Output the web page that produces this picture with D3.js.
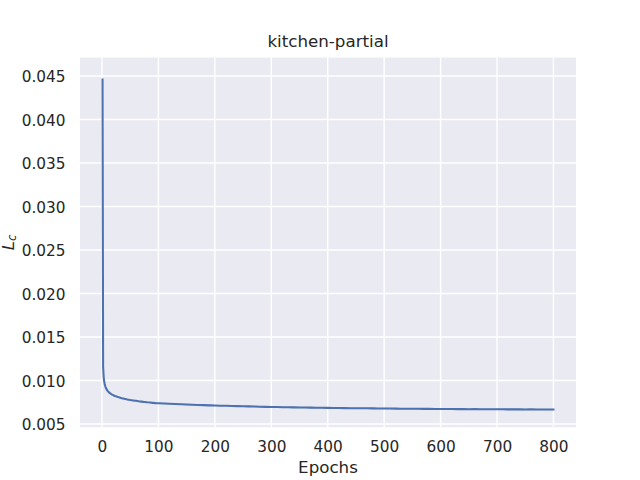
<!DOCTYPE html>
<html>
<head>
<meta charset="utf-8">
<script src="https://cdn.jsdelivr.net/npm/d3@7"></script>
<style>
  body { margin: 0; background: #fff; }
  text { font-family: "DejaVu Sans", sans-serif; fill: #262626; }
</style>
</head>
<body>
<div id="chart"></div>
<script>
// values
const epochs = [1, 2, 3, 4, 5, 6, 7, 8, 10, 12, 14, 16, 18, 20, 23, 26, 30, 35, 40, 45, 50, 55, 60, 65, 70, 75, 80, 85, 90, 95,
  100, 110, 120, 130, 140, 150, 160, 170, 180, 190, 200, 210, 220, 230, 240, 250, 260, 270, 280, 290,
  300, 310, 320, 330, 340, 350, 360, 370, 380, 390, 400, 410, 420, 430, 440, 450, 460, 470, 480, 490,
  500, 510, 520, 530, 540, 550, 560, 570, 580, 590, 600, 610, 620, 630, 640, 650, 660, 670, 680, 690,
  700, 710, 720, 730, 740, 750, 760, 770, 780, 790, 800];

const loss = [0.04460, 0.01160, 0.01040, 0.00985, 0.00952, 0.00930, 0.00913, 0.00900, 0.00880, 0.00866,
  0.00855, 0.00846, 0.00838, 0.00831, 0.00822, 0.00815, 0.00806, 0.00797, 0.00789, 0.00782,
  0.00776, 0.00771, 0.00766, 0.00761, 0.00757, 0.00753, 0.00749, 0.00746, 0.00743, 0.00740,
  0.00738, 0.00735, 0.00732, 0.00729, 0.00727, 0.00724, 0.00722, 0.00719, 0.00717, 0.00714,
  0.00712, 0.00710, 0.00709, 0.00706, 0.00705, 0.00703, 0.00702, 0.00700, 0.00699, 0.00697,
  0.00696, 0.00695, 0.00693, 0.00693, 0.00691, 0.00690, 0.00689, 0.00688, 0.00687, 0.00686,
  0.00685, 0.00684, 0.00684, 0.00682, 0.00681, 0.00681, 0.00680, 0.00680, 0.00679, 0.00678,
  0.00678, 0.00677, 0.00677, 0.00676, 0.00676, 0.00675, 0.00675, 0.00674, 0.00674, 0.00673,
  0.00673, 0.00672, 0.00673, 0.00671, 0.00672, 0.00670, 0.00671, 0.00670, 0.00670, 0.00669,
  0.00669, 0.00669, 0.00668, 0.00669, 0.00668, 0.00667, 0.00668, 0.00667, 0.00667, 0.00666, 0.00667];

// half width of the shaded band around the line
const spread = [0.00055, 0.00030, 0.00016, 0.00012, 0.00010, 0.00010, 0.00009, 0.00009, 0.00009, 0.00009,
  0.00009, 0.00009, 0.00009, 0.00009, 0.00009, 0.00009, 0.00009, 0.00009, 0.00009, 0.00009,
  0.00009, 0.00009, 0.00009, 0.00009, 0.00009, 0.00009, 0.00009, 0.00009, 0.00009, 0.00009,
  0.00009, 0.00009, 0.00009, 0.00009, 0.00009, 0.00009, 0.00009, 0.00009, 0.00009, 0.00009,
  0.00009, 0.00009, 0.00009, 0.00009, 0.00009, 0.00009, 0.00009, 0.00009, 0.00009, 0.00009,
  0.00009, 0.00009, 0.00009, 0.00009, 0.00009, 0.00009, 0.00009, 0.00009, 0.00009, 0.00009,
  0.00009, 0.00009, 0.00009, 0.00009, 0.00009, 0.00009, 0.00009, 0.00009, 0.00009, 0.00009,
  0.00009, 0.00009, 0.00009, 0.00009, 0.00009, 0.00009, 0.00009, 0.00009, 0.00009, 0.00009,
  0.00009, 0.00009, 0.00009, 0.00009, 0.00009, 0.00009, 0.00009, 0.00009, 0.00009, 0.00009,
  0.00009, 0.00009, 0.00009, 0.00009, 0.00009, 0.00009, 0.00009, 0.00009, 0.00009, 0.00009, 0.00009];

const xTicks = [0, 100, 200, 300, 400, 500, 600, 700, 800];
const yTicks = [0.005, 0.010, 0.015, 0.020, 0.025, 0.030, 0.035, 0.040, 0.045];

const chartTitle = "kitchen-partial";
const xLabel = "Epochs";

// axis limits as seen in the picture
const xLimits = [-38.95, 839.95];
const yLimits = [0.00463, 0.04712];

const margin = { top: 57.6, right: 64, bottom: 52.8, left: 80 },
    width = 640 - margin.left - margin.right,
    height = 480 - margin.top - margin.bottom;

const blue = "#4C72B0";

const data = epochs.map((e, i) => ({ epoch: e, value: loss[i], lo: loss[i] - spread[i], hi: loss[i] + spread[i] }));

const root = d3.select("#chart")
    .append("svg")
    .attr("width", 640)
    .attr("height", 480);

const svg = root.append("g")
    .attr("transform", `translate(${margin.left},${margin.top})`);

const x = d3.scaleLinear().domain(xLimits).range([0, width]);
const y = d3.scaleLinear().domain(yLimits).range([height, 0]);

// background
svg.append("rect")
    .attr("width", width)
    .attr("height", height)
    .attr("fill", "#EAEAF2");

// grid
svg.append("g")
    .selectAll("line")
    .data(xTicks)
    .join("line")
    .attr("x1", d => x(d)).attr("x2", d => x(d))
    .attr("y1", 0).attr("y2", height)
    .attr("stroke", "#fff")
    .attr("stroke-width", 1.4);

svg.append("g")
    .selectAll("line")
    .data(yTicks)
    .join("line")
    .attr("x1", 0).attr("x2", width)
    .attr("y1", d => y(d)).attr("y2", d => y(d))
    .attr("stroke", "#fff")
    .attr("stroke-width", 1.4);

// tick labels
const xAxis = svg.append("g")
    .attr("transform", `translate(0,${height})`)
    .call(d3.axisBottom(x).tickValues(xTicks).tickSize(0).tickPadding(0).tickFormat(d3.format("d")));
xAxis.select(".domain").remove();
xAxis.selectAll("text")
    .attr("y", 24.8)
    .attr("dy", null)
    .style("font-size", "15.3px")
    .style("font-family", "DejaVu Sans")
    .attr("fill", "#262626");

const yAxis = svg.append("g")
    .call(d3.axisLeft(y).tickValues(yTicks).tickSize(0).tickPadding(0).tickFormat(d3.format(".3f")));
yAxis.select(".domain").remove();
yAxis.selectAll("text")
    .attr("x", -14.5)
    .attr("dy", "0.366em")
    .style("font-size", "15.3px")
    .style("font-family", "DejaVu Sans")
    .attr("fill", "#262626");

// clip to axes
svg.append("clipPath")
    .attr("id", "clip")
    .append("rect")
    .attr("width", width)
    .attr("height", height);

const plot = svg.append("g").attr("clip-path", "url(#clip)");

plot.append("path")
    .datum(data)
    .attr("fill", blue)
    .attr("fill-opacity", 0.2)
    .attr("d", d3.area()
        .x(d => x(d.epoch))
        .y0(d => y(d.lo))
        .y1(d => y(d.hi)));

plot.append("path")
    .datum(data)
    .attr("fill", "none")
    .attr("stroke", blue)
    .attr("stroke-width", 2.08)
    .attr("stroke-linejoin", "round")
    .attr("stroke-linecap", "square")
    .attr("d", d3.line()
        .x(d => x(d.epoch))
        .y(d => y(d.value)));

// title and labels
root.append("text")
    .attr("x", margin.left + width / 2)
    .attr("y", 46.5)
    .attr("text-anchor", "middle")
    .style("font-size", "16.7px")
    .text(chartTitle);

root.append("text")
    .attr("x", margin.left + width / 2)
    .attr("y", 473)
    .attr("text-anchor", "middle")
    .style("font-size", "16.7px")
    .text(xLabel);

const yl = root.append("text")
    .attr("transform", `translate(14,${margin.top + height / 2}) rotate(-90)`)
    .attr("text-anchor", "middle")
    .style("font-size", "16.7px")
    .style("font-style", "italic");
yl.append("tspan").text("L");
yl.append("tspan")
    .attr("dy", "0.15em")
    .style("font-size", "11.7px")
    .text("c");
</script>
</body>
</html>
